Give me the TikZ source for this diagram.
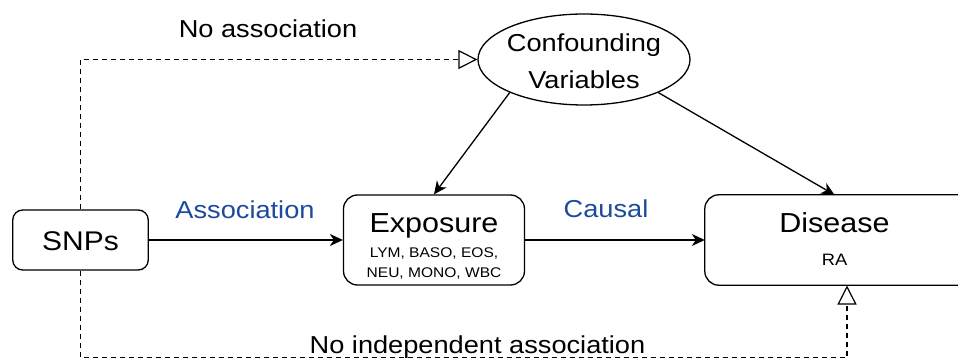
\documentclass[tikz,border=0pt]{standalone}
\usepackage{fontspec}
\setmainfont{Liberation Sans}[FakeStretch=1.11]
\usetikzlibrary{arrows.meta,shapes.geometric}
\definecolor{labelblue}{RGB}{28,74,156}
\tikzset{
  box/.style={draw, line width=1.3pt, rounded corners=12pt, fill=white, inner sep=0pt},
  arr/.style={line width=1.3pt, -{Stealth[length=13pt,width=12pt,inset=4pt]}},
  dashline/.style={line width=1.2pt, dash pattern=on 5pt off 4pt,
    -{Triangle[open,length=19pt,width=19pt,line width=1.2pt]}},
  txt/.style={inner sep=0pt, anchor=base},
}
\newcommand{\fsz}[1]{\fontsize{#1}{#1}\selectfont}
\begin{document}
\begin{tikzpicture}[x=1pt,y=-1pt]
  \useasboundingbox (0,0) rectangle (958,358);

  % main nodes
  \node[box, minimum width=135.5pt, minimum height=60pt, rounded corners=10pt] (snps) at (80.5,240) {};
  \node[box, minimum width=181pt, minimum height=90pt, rounded corners=14pt] (expo) at (434,240) {};
  % the disease box runs past the right margin: only three sides show
  \node[inner sep=0pt, minimum width=253pt, minimum height=90pt] (dis) at (831.5,240) {};
  \draw[line width=1.3pt, rounded corners=14pt]
    (dis.north east) -- (dis.north west) -- (dis.south west) -- (dis.south east);
  \node[draw, ellipse, line width=1.3pt, minimum width=212pt, minimum height=91pt, inner sep=0pt] (conf) at (584,59.5) {};

  % texts in the nodes
  \node[txt] (tsnps) at (80.5,251) {\fsz{27}SNPs};
  \node[txt] (texpo) at (434,233) {\fsz{27.5}Exposure};
  \node[txt] (texpo1) at (434,257) {\fsz{14}LYM, BASO, EOS,};
  \node[txt] (texpo2) at (434,277) {\fsz{14}NEU, MONO, WBC};
  \node[txt] (tdis) at (834.5,233) {\fsz{27.5}Disease};
  \node[txt] (tra) at (834.5,265) {\fsz{16.5}RA};
  \node[txt] (tconf1) at (584,52) {\fsz{24.5}Confounding};
  \node[txt] (tconf2) at (584,88.3) {\fsz{24.5}Variables};

  % connector labels
  \node[txt] (lnoassoc) at (268,37.3) {\fsz{24.5}No association};
  \node[txt, text=labelblue] (lassoc) at (245,218.3) {\fsz{24.5}Association};
  \node[txt, text=labelblue] (lcausal) at (606,217.7) {\fsz{24.5}Causal};
  \node[txt] (lnoind) at (477.5,353) {\fsz{24.5}No independent association};

  % solid connectors
  \draw[arr] (snps.east) -- (expo.west);
  \draw[arr] (expo.east) -- (dis.west |- expo.east);
  \draw[arr] (conf.204) -- (expo.north);
  \draw[arr] (conf.336.5) -- (tdis |- dis.north);

  % dashed connectors
  \coordinate (low) at (0,357.6);
  \coordinate (disin) at (847,285.5);
  \draw[dashline] (snps.north) |- (conf.west);
  \draw[dashline] (snps.south) -- (snps.south |- low) -| (disin);
\end{tikzpicture}
\end{document}
